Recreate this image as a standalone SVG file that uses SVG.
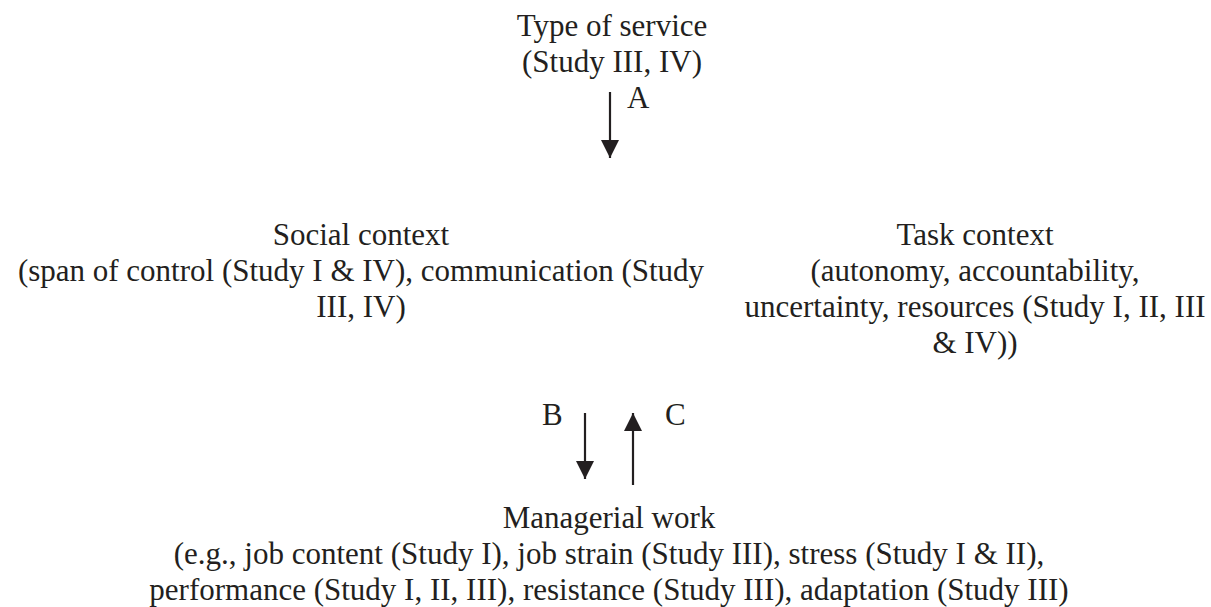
<svg xmlns="http://www.w3.org/2000/svg" width="1211" height="607" viewBox="0 0 1211 607">
<style>
text{font-family:"Liberation Serif","Times New Roman",serif;font-size:31px;fill:#231f20}
.c{text-anchor:middle}
.ln{stroke:#231f20;stroke-width:2.2;fill:none}
</style>
<defs>
<marker id="ah" markerUnits="userSpaceOnUse" markerWidth="18" markerHeight="18" viewBox="0 0 16 16" refX="16" refY="8" orient="auto">
<path d="M0,0 L16,8 L0,16 Z" fill="#231f20"/>
</marker>
</defs>
<rect width="1211" height="607" fill="#fff"/>
<g id="type-of-service">
<text class="c" x="612" y="36">Type of service</text>
<text class="c" x="612" y="72">(Study III, IV)</text>
</g>
<g id="social-context">
<text class="c" x="361" y="245">Social context</text>
<text class="c" x="361" y="281">(span of control (Study I &amp; IV), communication (Study</text>
<text class="c" x="361" y="317">III, IV)</text>
</g>
<g id="task-context">
<text class="c" x="975" y="245">Task context</text>
<text class="c" x="975" y="281">(autonomy, accountability,</text>
<text class="c" x="975" y="317">uncertainty, resources (Study I, II, III</text>
<text class="c" x="975" y="353">&amp; IV))</text>
</g>
<g id="managerial-work">
<text class="c" x="609" y="528">Managerial work</text>
<text class="c" x="609" y="564">(e.g., job content (Study I), job strain (Study III), stress (Study I &amp; II),</text>
<text class="c" x="609" y="600">performance (Study I, II, III), resistance (Study III), adaptation (Study III)</text>
</g>
<g id="connectors">
<line class="ln" x1="610" y1="92" x2="610" y2="158" marker-end="url(#ah)"/>
<line class="ln" x1="585" y1="413" x2="585" y2="479" marker-end="url(#ah)"/>
<line class="ln" x1="633" y1="485" x2="633" y2="413" marker-end="url(#ah)"/>
<text x="627" y="108">A</text>
<text x="542" y="425">B</text>
<text x="665" y="425">C</text>
</g>
</svg>
